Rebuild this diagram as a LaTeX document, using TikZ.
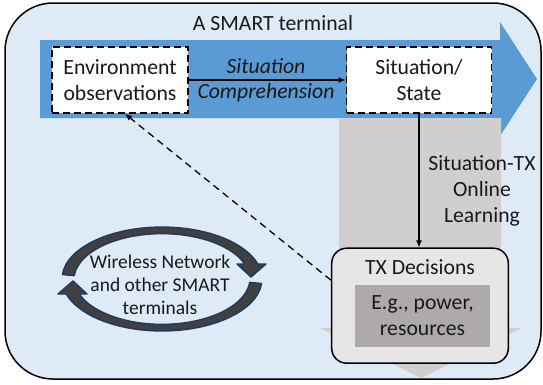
\documentclass[tikz,border=0pt]{standalone}
\usepackage{fontspec}
\setmainfont{Carlito}
\usetikzlibrary{arrows.meta,calc}
\definecolor{bgblue}{HTML}{DEEBF7}
\definecolor{bigblue}{HTML}{5B9BD5}
\definecolor{biggrey}{HTML}{D0CECE}
\definecolor{txfill}{HTML}{E7E6E6}
\definecolor{egfill}{HTML}{AEAAAA}
\definecolor{loopfill}{HTML}{404040}
\definecolor{loopline}{HTML}{1F3864}
\begin{document}
\begin{tikzpicture}[x=1pt,y=-1pt,
  txt/.style={font=\fontsize{21.7}{26}\selectfont, align=center, inner sep=0pt, text=black!90},
  dbox/.style={draw=black, fill=white, line width=1.6pt, dash pattern=on 7pt off 4pt, inner sep=0pt, txt},
  conn/.style={line width=1.2pt, -{Latex[length=7pt,width=6pt]}},
  loopar/.style={fill=loopfill, draw=loopline, line width=1.4pt, line join=round}]
\useasboundingbox (0,0) rectangle (543,384);
% outer terminal box
\node[draw=black, fill=bgblue, line width=1.5pt, rounded corners=48pt, minimum width=536pt, minimum height=376pt, inner sep=0pt] (term) at (273,191) {};
\node[txt] (title) at (273,23) {A SMART terminal};
% big blue arrow
\fill[bigblue] (40,40) -- (500,40) -- (500,22) -- (537,79) -- (500,136) -- (500,118) -- (40,118) -- cycle;
% big grey arrow
\fill[biggrey] (339,118) -- (501,118) -- (501,328) -- (522,328) -- (421,378) -- (320,328) -- (339,328) -- cycle;
% boxes
\node[dbox, minimum width=136pt, minimum height=66pt] (env) at (120,80) {Environment\\observations};
\node[dbox, minimum width=145pt, minimum height=66pt] (sit) at (419,80) {Situation/\\State};
\draw[conn] (env) -- (sit);
\node[txt, font=\fontsize{21.7}{26}\selectfont\itshape] (sc1) at (266,66) {Situation};
\node[txt, font=\fontsize{21.7}{26}\selectfont\itshape] (sc2) at (266,93) {Comprehension};
% TX decisions
\node[draw=black, fill=txfill, line width=1.5pt, rounded corners=15pt, minimum width=176.6pt, minimum height=115pt, inner sep=0pt] (tx) at (420,305.7) {};
\node[txt] (txl) at (420,267) {TX Decisions};
\node[fill=egfill, minimum width=135pt, minimum height=62.5pt, inner sep=0pt, txt] (eg) at (422.5,316) {E.g., power,\\resources};
\draw[conn] (sit.south) -- (sit.south |- tx.north);
\node[txt] (ol) at (482,191) {Situation-TX\\Online\\Learning};
% dashed feedback
\draw[conn, line width=1.3pt, dash pattern=on 7pt off 5pt] (tx.164) -- ($(env.south)+(5,0)$);
% loop arrows
\filldraw[loopar] (62.4,274.5) arc[start angle=185, end angle=343.2, x radius=100, y radius=52]
  -- (266,264) -- (251,277) -- (237,264) -- (244.7,264)
  arc[start angle=340.1, end angle=185, x radius=88, y radius=46] -- cycle;
\filldraw[loopar] (261.6,283.5) arc[start angle=5, end angle=163.2, x radius=100, y radius=52]
  -- (58,294) -- (73,281) -- (87,294) -- (79.3,294)
  arc[start angle=160.1, end angle=5, x radius=88, y radius=46] -- cycle;
\node[txt, font=\fontsize{19.5}{23}\selectfont] (wn) at (160,285) {Wireless Network\\and other SMART\\terminals};
\end{tikzpicture}
\end{document}
